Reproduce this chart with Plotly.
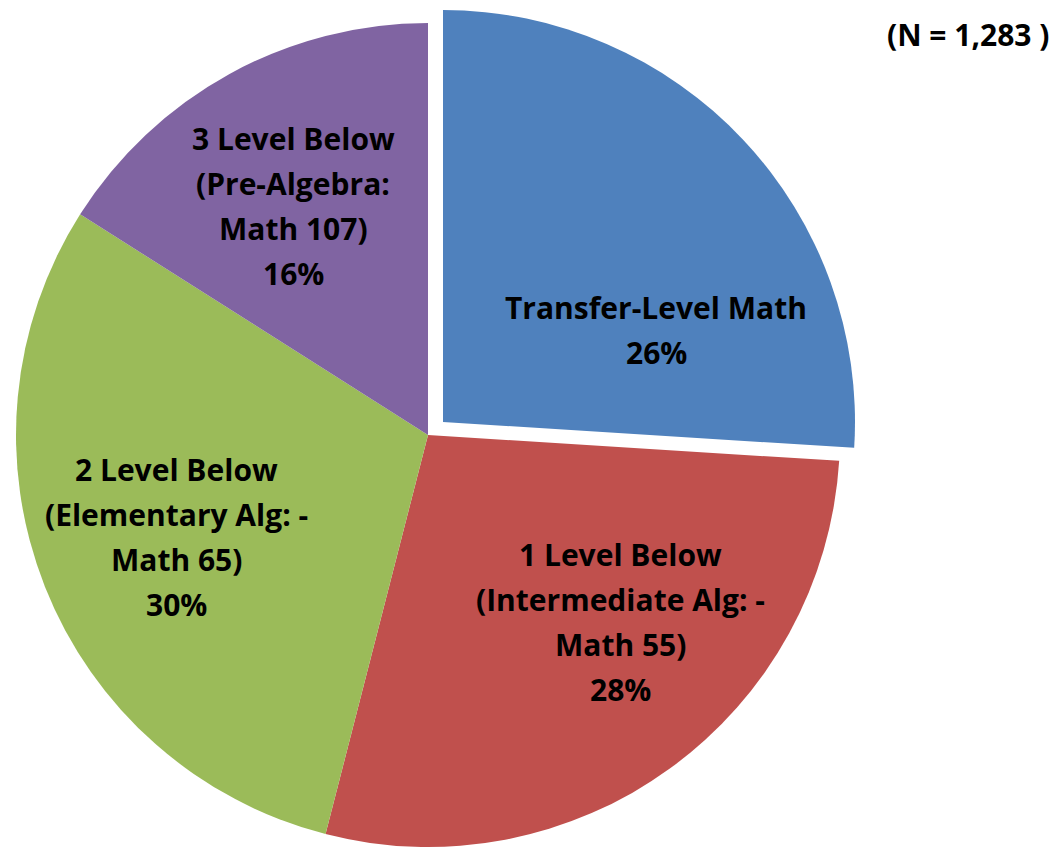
import plotly.graph_objects as go

labels = [
    "Transfer-Level Math",
    "1 Level Below<br>(Intermediate Alg: -<br>Math 55)",
    "2 Level Below<br>(Elementary Alg: -<br>Math 65)",
    "3 Level Below<br>(Pre-Algebra:<br>Math 107)",
]
percents = [26, 28, 30, 16]
colors = ["#4F81BD", "#C0504D", "#9BBB59", "#8064A2"]
n_total = "1,283"

W, H = 1059, 847
R = 412
# label block centres in pixels (layout only)
label_xy = [(656, 330), (620, 622), (176, 537), (293, 206)]
LINE_GAP = 45


def dom(cx, cy, r):
    # pixel centre/radius -> paper domain
    return dict(
        x=[(cx - r) / W, (cx + r) / W],
        y=[1 - (cy + r) / H, 1 - (cy - r) / H],
    )


fig = go.Figure()

# main pie: every slice except the exploded one
fig.add_trace(
    go.Pie(
        labels=labels,
        values=percents,
        textinfo="none",
        marker=dict(colors=["rgba(0,0,0,0)"] + colors[1:], line=dict(width=0)),
        sort=False,
        direction="clockwise",
        rotation=0,
        domain=dom(428, 435, R),
        hoverinfo="skip",
        showlegend=False,
    )
)

# exploded slice, drawn with a shifted centre
fig.add_trace(
    go.Pie(
        labels=labels,
        values=percents,
        textinfo="none",
        marker=dict(colors=colors[:1] + ["rgba(0,0,0,0)"] * 3, line=dict(width=0)),
        sort=False,
        direction="clockwise",
        rotation=0,
        domain=dom(443, 422, R),
        hoverinfo="skip",
        showlegend=False,
    )
)

font = dict(family="Open Sans", size=30, color="black", weight="bold")

for lab, p, (cx, cy) in zip(labels, percents, label_xy):
    lines = lab.split("<br>") + [f"{p}%"]
    y0 = cy - LINE_GAP * (len(lines) - 1) / 2
    for i, line in enumerate(lines):
        fig.add_annotation(
            text=line,
            xref="paper",
            yref="paper",
            x=cx / W,
            y=1 - (y0 + i * LINE_GAP) / H,
            xanchor="center",
            yanchor="middle",
            showarrow=False,
            font=font,
        )

fig.add_annotation(
    text=f"(N = {n_total} )",
    xref="paper",
    yref="paper",
    x=1051 / W,
    y=1 - 35 / H,
    xanchor="right",
    yanchor="middle",
    showarrow=False,
    font=font,
)

fig.update_layout(
    width=W,
    height=H,
    margin=dict(l=0, r=0, t=0, b=0),
    paper_bgcolor="white",
    plot_bgcolor="white",
)

fig.write_html(
    "out.html",
    config={"displayModeBar": False},
    post_script="document.body.style.margin = '0';",
)
